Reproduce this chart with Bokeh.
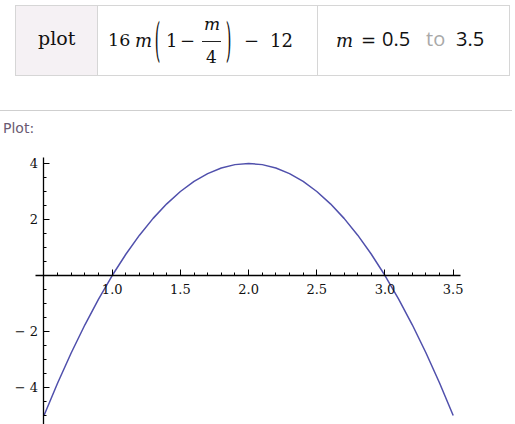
from bokeh.plotting import figure
from bokeh.models import Div, FixedTicker, Range1d
from bokeh.layouts import column
from bokeh.embed import file_html
from bokeh.resources import INLINE

# ---- data ----
m_vals = [0.5, 0.6, 0.7, 0.8, 0.9, 1.0, 1.1, 1.2, 1.3, 1.4, 1.5, 1.6, 1.7, 1.8, 1.9, 2.0,
          2.1, 2.2, 2.3, 2.4, 2.5, 2.6, 2.7, 2.8, 2.9, 3.0, 3.1, 3.2, 3.3, 3.4, 3.5]
y_vals = [-5.0, -3.84, -2.76, -1.76, -0.84, 0.0, 0.76, 1.44, 2.04, 2.56, 3.0, 3.36, 3.64, 3.84, 3.96, 4.0,
          3.96, 3.84, 3.64, 3.36, 3.0, 2.56, 2.04, 1.44, 0.76, 0.0, -0.84, -1.76, -2.76, -3.84, -5.0]

x_major = [1.0, 1.5, 2.0, 2.5, 3.0, 3.5]
x_labels = ["1.0", "1.5", "2.0", "2.5", "3.0", "3.5"]
x_minor = [0.6, 0.7, 0.8, 0.9, 1.1, 1.2, 1.3, 1.4, 1.6, 1.7, 1.8, 1.9, 2.1, 2.2, 2.3, 2.4,
           2.6, 2.7, 2.8, 2.9, 3.1, 3.2, 3.3, 3.4]
y_major = [-4, -2, 2, 4]
y_labels = ["\u2212 4", "\u2212 2", "2", "4"]
y_minor = [-5, -4.5, -3.5, -3, -2.5, -1.5, -1, -0.5, 0.5, 1, 1.5, 2.5, 3, 3.5]

# ---- header (input interpretation) ----
SERIF = "'DejaVu Serif', serif"
SANS = "'Open Sans', 'DejaVu Sans', sans-serif"
BORDER = "#d6d6d6"


def txt(s, left, baseline, size=18, fam=SERIF, asc=0.846, extra=""):
    top = baseline - asc * size
    return (f'<span style="position:absolute;left:{left}px;top:{top:.1f}px;font-family:{fam};'
            f'font-size:{size}px;line-height:1;white-space:nowrap;color:#111;{extra}">{s}</span>')


def paren(s, cx, cy, size=18):
    # tall bracket: glyph scaled vertically around its centre
    top = cy - 0.53 * size
    return (f'<span style="position:absolute;left:{cx - 4}px;top:{top:.1f}px;font-family:{SERIF};'
            f'font-size:{size}px;line-height:1;color:#111;display:inline-block;'
            f'transform:scale(0.8,2.6);transform-origin:50% 53%;">{s}</span>')


parts = [
    f'<div style="position:absolute;left:15px;top:5px;width:495px;height:71px;box-sizing:border-box;border:1px solid {BORDER};"></div>',
    f'<div style="position:absolute;left:16px;top:6px;width:81px;height:69px;background:#f5f1f4;"></div>',
    f'<div style="position:absolute;left:97px;top:5px;width:1px;height:71px;background:{BORDER};"></div>',
    f'<div style="position:absolute;left:317px;top:5px;width:1px;height:71px;background:{BORDER};"></div>',
    txt("plot", 38, 45.5, size=19),
    # 16 m (1 - m/4) - 12
    txt("16", 108, 47, size=17.5),
    txt("<i>m</i>", 135, 47),
    paren("(", 158, 41.5),
    txt("1", 166, 47),
    txt("&#8722;", 180, 47),
    txt("<i>m</i>", 204, 30.5, size=17),
    '<div style="position:absolute;left:202px;top:41px;width:19px;height:1px;background:#222;"></div>',
    txt("4", 206, 63.5, size=17),
    paren(")", 229, 41.5),
    txt("&#8722;", 244, 47),
    txt("12", 270, 47),
    # m = 0.5 to 3.5
    txt("<i>m</i>", 336, 47),
    txt("=", 361, 47),
    txt("0.5", 382, 47, size=20, fam=SANS, asc=0.888),
    txt("to", 426, 47, size=20, fam=SANS, asc=0.888, extra="color:#a9a9a9;"),
    txt("3.5", 456, 47, size=20, fam=SANS, asc=0.888),
    # separator and pod title
    '<div style="position:absolute;left:0px;top:110px;width:512px;height:1px;background:#cfcfcf;"></div>',
    '<div style="position:absolute;left:3px;top:121px;font-family:\'DejaVu Sans\', sans-serif;font-size:14px;color:#6a5a72;line-height:1;">Plot:</div>',
]
header_html = '<div style="position:relative;width:515px;height:145px;">' + "".join(parts) + "</div>"
header = Div(text=header_html, width=515, height=145, margin=0)

# ---- plot ----
# frame covers the full canvas; axes are drawn at x=0.5 and y=0 with limited bounds
p = figure(width=515, height=279, x_range=Range1d(0.1811, 3.9568), y_range=Range1d(-5.321, 4.643),
           output_backend="svg", toolbar_location=None,
           min_border_left=0, min_border_right=0, min_border_top=0, min_border_bottom=0,
           margin=0)
p.xgrid.visible = False
p.ygrid.visible = False
p.outline_line_color = None
p.background_fill_color = "white"
p.border_fill_color = "white"

p.line(m_vals, y_vals, line_color="#5050ac", line_width=1.5)

xa = p.xaxis[0]
xa.fixed_location = 0
xa.bounds = (0.4377, 3.553)
xa.ticker = FixedTicker(ticks=x_major, minor_ticks=x_minor)
xa.major_label_overrides = {v: s for v, s in zip(x_major, x_labels)}
ya = p.yaxis[0]
ya.fixed_location = 0.5
ya.bounds = (-5.321, 4.214)
ya.ticker = FixedTicker(ticks=y_major, minor_ticks=y_minor)
ya.major_label_overrides = {v: s for v, s in zip(y_major, y_labels)}

for ax in (xa, ya):
    ax.axis_line_color = "black"
    ax.axis_line_width = 1.3
    ax.major_tick_line_color = "black"
    ax.minor_tick_line_color = "black"
    ax.major_tick_in = 6
    ax.major_tick_out = 0
    ax.minor_tick_in = 3
    ax.minor_tick_out = 0
    ax.major_label_text_font = "DejaVu Serif"
    ax.major_label_text_font_size = "13px"
    ax.major_label_text_color = "#111111"
xa.major_label_standoff = 8
ya.major_label_standoff = 6

layout = column(header, p, spacing=0, margin=0)
open("out.html", "w").write(file_html(layout, INLINE))
